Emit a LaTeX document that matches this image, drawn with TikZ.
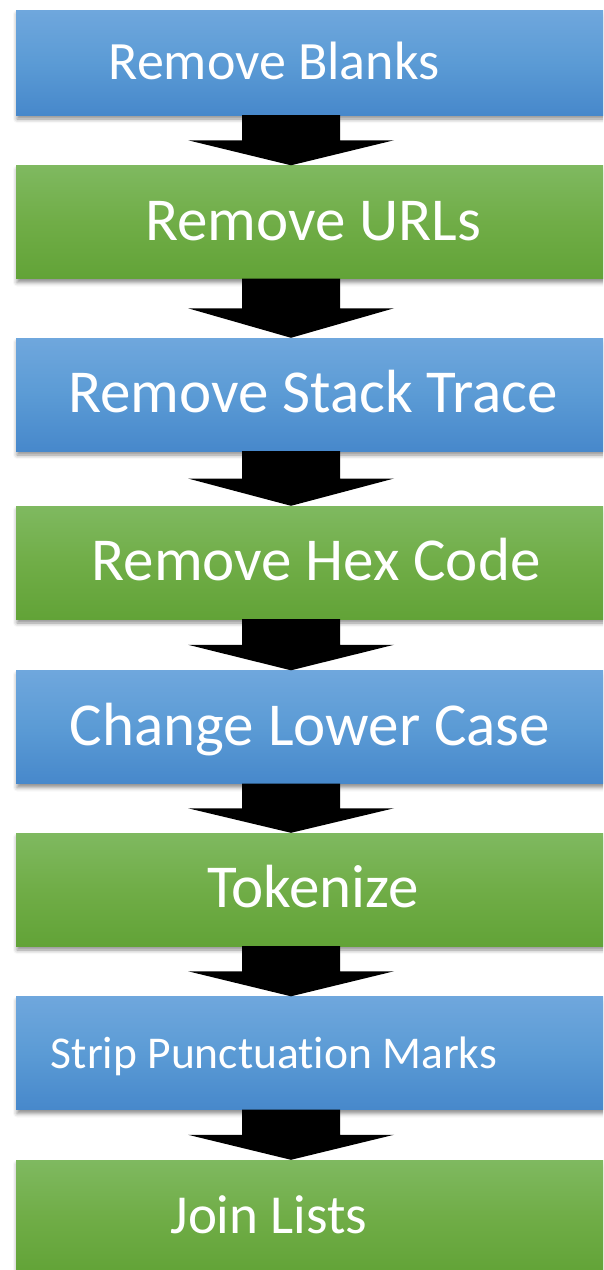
\documentclass[tikz,border=0pt]{standalone}
\usepackage{fontspec}
\setmainfont{Carlito}[Ligatures=NoCommon]
\usepackage{tikz}
\usetikzlibrary{calc}
\usetikzlibrary{shadows.blur}
\definecolor{bluetop}{HTML}{6FA7DD}
\definecolor{bluemid}{HTML}{5B9BD5}
\definecolor{bluebot}{HTML}{4788CB}
\definecolor{greentop}{HTML}{7FB960}
\definecolor{greenmid}{HTML}{70AD47}
\definecolor{greenbot}{HTML}{62A337}

\begin{document}
\begin{tikzpicture}[x=1pt,y=-1pt,
  stepbox/.style={rectangle,minimum width=594pt,minimum height=113pt,inner sep=0pt,
    blur shadow={shadow xshift=1pt,shadow yshift=-4pt,shadow blur radius=4pt,shadow opacity=45}},
  bluebox/.style={stepbox,top color=bluetop,bottom color=bluebot,middle color=bluemid},
  greenbox/.style={stepbox,top color=greentop,bottom color=greenbot,middle color=greenmid},
  steptext/.style={text=white,font=\fontsize{61}{70}\selectfont,text height=36pt,text depth=0pt,inner sep=0pt},
  smalltext/.style={steptext,font=\fontsize{54}{62}\selectfont,text height=34pt}]
\useasboundingbox (0,0) rectangle (603,1270);
\clip (0,0) rectangle (603,1270);
%% boxes
\node[bluebox,minimum height=105pt,label={[smalltext,xshift=-39pt]center:Remove Blanks}] (blanks) at (313,62.5) {};
\node[greenbox,label={[steptext]center:Remove URLs}] (urls) at (313,222) {};
\node[bluebox,label={[steptext]center:Remove Stack Trace}] (stack) at (313,394.5) {};
\node[greenbox,label={[steptext,xshift=3pt]center:Remove Hex Code}] (hex) at (313,562.5) {};
\node[bluebox,label={[steptext,xshift=-3pt]center:Change Lower Case}] (lower) at (313,727) {};
\node[greenbox,label={[steptext]center:Tokenize}] (tokens) at (313,889.5) {};
\node[bluebox,label={[smalltext,font=\fontsize{45.5}{52}\selectfont,text height=31pt,xshift=-39pt]center:Strip Punctuation Marks}] (strip) at (313,1053) {};
\node[greenbox,label={[smalltext,font=\fontsize{55}{62}\selectfont,xshift=-44pt]center:Join Lists}] (join) at (313,1216.5) {};
%% block arrows
\coordinate (ax) at (291,0);
\foreach \a/\b in {blanks/urls,urls/stack,stack/hex,hex/lower,lower/tokens,tokens/strip,strip/join}
{
  \path (\a.south -| ax) coordinate (atop) (\b.north -| ax) coordinate (atip)
        ($(atop)!.5!(atip)$) coordinate (amid);
  \fill[black] ([xshift=-49pt]atop) -- ([xshift=-49pt]amid) -- ([xshift=-103pt]amid) -- (atip)
        -- ([xshift=103pt]amid) -- ([xshift=49pt]amid) -- ([xshift=49pt]atop) -- cycle;
}
\end{tikzpicture}
\end{document}
